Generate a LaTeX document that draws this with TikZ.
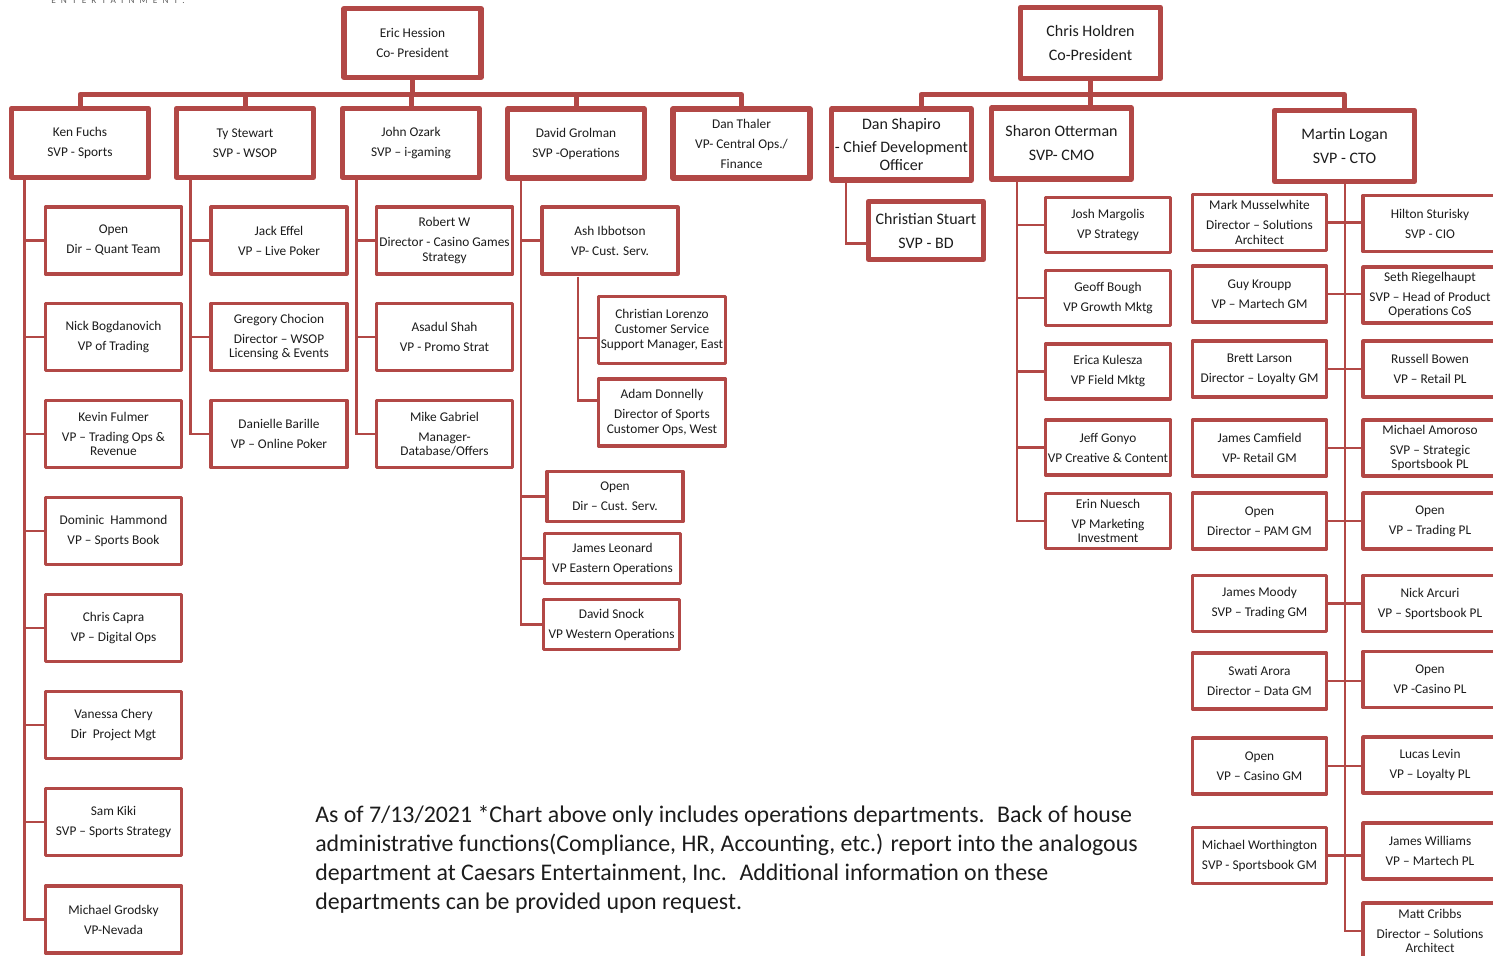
\documentclass[tikz,border=0pt]{standalone}
\usepackage{fontspec}
\setmainfont{Carlito}
\newfontfamily\logofont[LetterSpace=55]{Carlito}
\definecolor{chartred}{RGB}{178,72,70}
\definecolor{ink}{RGB}{28,28,28}
\tikzset{
  headbox/.style={draw=chartred, fill=white, line width=3.9pt, line join=round, inner sep=0pt, align=center, text=ink,
    minimum width=102.75pt, minimum height=51.75pt, font=\fontsize{10}{15}\selectfont},
  leadbox/.style={headbox, minimum width=105pt, minimum height=53.25pt, font=\fontsize{12}{18}\selectfont},
  staffbox/.style={draw=chartred, fill=white, line width=2.4pt, line join=round, inner sep=0pt, align=center, text=ink,
    minimum width=102pt, minimum height=50.25pt, font=\fontsize{10}{15}\selectfont},
  mktbox/.style={staffbox, minimum width=93.75pt, minimum height=41.25pt},
  techbox/.style={staffbox, minimum width=100.5pt, minimum height=42pt},
  bar/.style={draw=chartred, line width=3.75pt, line join=round},
  tie/.style={draw=chartred, line width=1.6pt},
  note/.style={inner sep=0pt, align=left, text=ink, font=\fontsize{17.9}{21.75}\selectfont},
  logo/.style={inner sep=0pt, text=ink!70, font=\logofont\fontsize{7}{8}\selectfont}
}
\begin{document}
\begin{tikzpicture}[x=0.75pt, y=-0.75pt]
\useasboundingbox (0,0) rectangle (1493,956);

% logo, cut at the top
\node[logo, anchor=base west] (brand) at (51,4) {ENTERTAINMENT.};

% co-presidents
\node[headbox] (eric) at (412.5,43) {Eric Hession\\Co- President};
\node[leadbox] (chris) at (1090.5,43) {Chris Holdren\\Co-President};

% first row, left
\node[headbox] (ken) at (80,143) {Ken Fuchs\\SVP - Sports};
\node[headbox] (ty) at (245,143) {Ty Stewart\\SVP - WSOP};
\node[headbox] (john) at (411,143) {John Ozark\\SVP – i-gaming};
\node[headbox] (david) at (576,143.5) {David Grolman\\SVP -Operations};
\node[headbox] (thaler) at (741.5,143.5) {Dan Thaler\\VP- Central Ops./\\Finance};

% first row, right
\node[leadbox] (shapiro) at (901.5,144.5) {Dan Shapiro\\- Chief Development\\[-4.5pt]Officer};
\node[leadbox] (sharon) at (1061.5,143.5) {Sharon Otterman\\SVP- CMO};
\node[leadbox] (martin) at (1344.5,146) {Martin Logan\\SVP - CTO};

% bars
\coordinate (leftbar) at (0,94.5);
\coordinate (rightbar) at (921,94.5);
\draw[bar] (ken.north) |- (thaler.north |- leftbar) -- (thaler.north);
\foreach \n in {ty,john,david}
  \draw[bar] (\n.north) -- (\n.north |- leftbar);
\draw[bar] (eric.south) -- (eric.south |- leftbar);
\draw[bar] (rightbar |- shapiro.north) |- (martin.north |- rightbar) -- (martin.north);
\draw[bar] (chris.south) -- (chris.south |- sharon.north);

% sports
\node[staffbox] (quant) at (113.5,240.5) {Open\\Dir – Quant Team};
\node[staffbox] (bogdanovich) at (113.5,337) {Nick Bogdanovich\\VP of Trading};
\node[staffbox] (fulmer) at (113.5,434) {Kevin Fulmer\\VP – Trading Ops \&\\[-4pt]Revenue};
\node[staffbox] (hammond) at (113.5,531) {Dominic~ Hammond\\VP – Sports Book};
\node[staffbox] (capra) at (113.5,628) {Chris Capra\\VP – Digital Ops};
\node[staffbox] (chery) at (113.5,725) {Vanessa Chery\\Dir~ Project Mgt};
\node[staffbox] (kiki) at (113.5,822) {Sam Kiki\\SVP – Sports Strategy};
\node[staffbox] (grodsky) at (113.5,919.5) {Michael Grodsky\\VP-Nevada};
\coordinate (kenspine) at (24.5,180);
\draw[tie] (kenspine) |- (grodsky.west);
\foreach \n in {quant,bogdanovich,fulmer,hammond,capra,chery,kiki}
  \draw[tie] (kenspine |- \n.west) -- (\n.west);

% wsop
\node[staffbox] (effel) at (279,240.5) {Jack Effel\\VP – Live Poker};
\node[staffbox] (chocion) at (279,337) {Gregory Chocion\\Director – WSOP\\[-4pt]Licensing \& Events};
\node[staffbox] (barille) at (279,434) {Danielle Barille\\VP – Online Poker};
\coordinate (tyspine) at (190.5,180);
\draw[tie] (tyspine) |- (barille.west);
\foreach \n in {effel,chocion}
  \draw[tie] (tyspine |- \n.west) -- (\n.west);

% i-gaming
\node[staffbox] (robertw) at (444.5,240.5) {Robert W\\Director - Casino Games\\[-4pt]Strategy};
\node[staffbox] (shah) at (444.5,337) {Asadul Shah\\VP - Promo Strat};
\node[staffbox] (gabriel) at (444.5,434) {Mike Gabriel\\Manager-\\[-4pt]Database/Offers};
\coordinate (johnspine) at (356.5,180);
\draw[tie] (johnspine) |- (gabriel.west);
\foreach \n in {robertw,shah}
  \draw[tie] (johnspine |- \n.west) -- (\n.west);

% operations
\node[staffbox] (ibbotson) at (610,240.5) {Ash Ibbotson\\VP- Cust. Serv.};
\node[staffbox, minimum width=95.25pt] (lorenzo) at (662,330) {Christian Lorenzo\\[-4pt]Customer Service\\[-4pt]Support Manager, East};
\node[staffbox, minimum width=95.25pt] (donnelly) at (662,412.5) {Adam Donnelly\\Director of Sports\\[-4pt]Customer Ops, West};
\node[staffbox, minimum height=37.5pt] (opencs) at (615,496.5) {Open\\Dir – Cust. Serv.};
\node[staffbox, minimum height=37.5pt] (leonard) at (612.5,558.5) {James Leonard\\VP Eastern Operations};
\node[staffbox, minimum height=37.5pt] (snock) at (611.5,624.5) {David Snock\\VP Western Operations};
\coordinate (davidspine) at (521,180.5);
\draw[tie] (davidspine) |- (snock.west);
\foreach \n in {ibbotson,opencs,leonard}
  \draw[tie] (davidspine |- \n.west) -- (\n.west);
\coordinate (ashspine) at (578,276.5);
\draw[tie] (ashspine) |- ([yshift=9pt]donnelly.west);
\draw[tie] (ashspine |- lorenzo.west) ++(0,8) -- ([yshift=-6pt]lorenzo.west);

% business development
\node[leadbox, minimum width=86.25pt, minimum height=43.5pt] (stuart) at (926,230.5) {Christian Stuart\\SVP - BD};
\coordinate (shapirospine) at (846,182);
\draw[tie] (shapirospine) |- ([yshift=-9.75pt]stuart.west);

% marketing
\node[mktbox] (margolis) at (1108,225) {Josh Margolis\\VP Strategy};
\node[mktbox] (bough) at (1108,298) {Geoff Bough\\VP Growth Mktg};
\node[mktbox] (kulesza) at (1108,371.5) {Erica Kulesza\\VP Field Mktg};
\node[mktbox] (gonyo) at (1108,447.5) {Jeff Gonyo\\VP Creative \& Content};
\node[mktbox] (nuesch) at (1108,521) {Erin Nuesch\\VP Marketing\\[-4pt]Investment};
\coordinate (sharonspine) at (1017,181);
\draw[tie] (sharonspine) |- (nuesch.west);
\foreach \n in {margolis,bough,kulesza,gonyo}
  \draw[tie] (sharonspine |- \n.west) -- (\n.west);

% technology, left column
\node[techbox] (musselwhite) at (1259.5,222.5) {Mark Musselwhite\\Director – Solutions\\[-4pt]Architect};
\node[techbox] (kroupp) at (1259.5,294) {Guy Kroupp\\VP – Martech GM};
\node[techbox] (larson) at (1259.5,369) {Brett Larson\\Director – Loyalty GM};
\node[techbox] (camfield) at (1259.5,448) {James Camfield\\VP- Retail GM};
\node[techbox] (openpam) at (1259.5,521) {Open\\Director – PAM GM};
\node[techbox] (moody) at (1259.5,603.5) {James Moody\\SVP – Trading GM};
\node[techbox] (arora) at (1259.5,681) {Swati Arora\\Director – Data GM};
\node[techbox] (opencasinogm) at (1259.5,766) {Open\\VP – Casino GM};
\node[techbox] (worthington) at (1259.5,855.5) {Michael Worthington\\SVP - Sportsbook GM};

% technology, right column
\node[techbox] (sturisky) at (1430,223.5) {Hilton Sturisky\\SVP - CIO};
\node[techbox] (riegelhaupt) at (1430,295) {Seth Riegelhaupt\\SVP – Head of Product\\[-4pt]Operations CoS};
\node[techbox] (bowen) at (1430,369) {Russell Bowen\\VP – Retail PL};
\node[techbox] (amoroso) at (1430,448) {Michael Amoroso\\SVP – Strategic\\[-4pt]Sportsbook PL};
\node[techbox] (opentrading) at (1430,521) {Open\\VP – Trading PL};
\node[techbox] (arcuri) at (1430,603.5) {Nick Arcuri\\VP – Sportsbook PL};
\node[techbox] (opencasinopl) at (1430,679.5) {Open\\VP -Casino PL};
\node[techbox] (levin) at (1430,765) {Lucas Levin\\VP – Loyalty PL};
\node[techbox] (williams) at (1430,851) {James Williams\\VP – Martech PL};
\node[techbox] (cribbs) at (1430,931) {Matt Cribbs\\Director – Solutions\\[-4pt]Architect};

% technology links
\coordinate (martinspine) at (1345,184);
\draw[tie] (martinspine) |- (cribbs.west);
\foreach \l/\r in {musselwhite/sturisky,kroupp/riegelhaupt,larson/bowen,camfield/amoroso,openpam/opentrading,
  moody/arcuri,arora/opencasinopl,opencasinogm/levin,worthington/williams}
  \draw[tie] (\l.east) -- (\l.east -| \r.west);

% remark
\node[note, anchor=north west] (remark) at (315,805) {As of 7/13/2021 *Chart above only includes operations departments.~ Back of house\\
administrative functions(Compliance, HR, Accounting, etc.) report into the analogous\\
department at Caesars Entertainment, Inc.~ Additional information on these\\
departments can be provided upon request.};

\end{tikzpicture}
\end{document}
